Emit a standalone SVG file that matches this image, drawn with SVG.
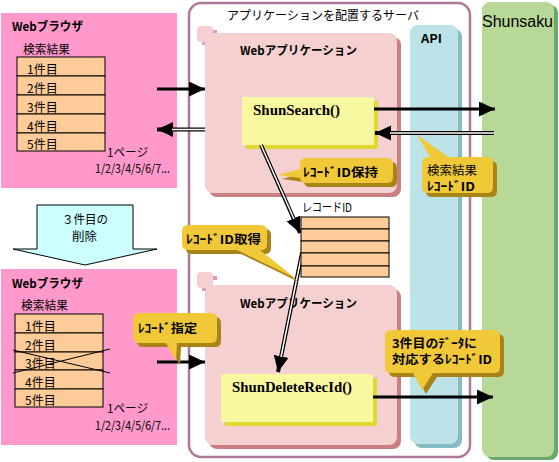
<svg xmlns="http://www.w3.org/2000/svg" width="559" height="462" viewBox="0 0 559 462">
<style>
text{font-family:"Noto Sans CJK JP","Liberation Sans",sans-serif;font-size:12px;fill:#000}
.b{font-weight:bold}
.fn{font-family:"Liberation Serif","Noto Sans CJK JP",serif;font-weight:bold;font-size:14px}
.browser{fill:#ff99cc}
.tbl{fill:#ffcc99;stroke:#000;stroke-width:1}
.app{fill:#f5d0d0}
.appsh{fill:#c88080}
.func{fill:#f8f8a0}
.funcsh{fill:#e0d830}
.co{fill:#f0c838}
.cosh{fill:#a88418}
.thick{stroke:#000;stroke-width:3;fill:none}
.dbl{stroke:#000;stroke-width:4;fill:none}
.dblw{stroke:#fff;stroke-width:1.5;fill:none}
</style>
<defs>
<marker id="ah" markerUnits="userSpaceOnUse" markerWidth="17" markerHeight="16" refX="16" refY="7.5" orient="auto">
<path d="M0,0 L16,7.5 L0,15 Z" fill="#000"/>
</marker>
</defs>

<g id="server">
<rect x="189" y="3" width="281" height="454" rx="12" fill="#fff" stroke="#b07898" stroke-width="2.5"/>
<text x="227" y="20" textLength="192" lengthAdjust="spacingAndGlyphs">アプリケーションを配置するサーバ</text>
</g>

<g id="api">
<rect x="414" y="29" width="48" height="419" rx="8" fill="#85bcc4"/>
<rect x="410" y="25" width="48" height="419" rx="8" fill="#bde3e8"/>
<text class="b" x="421" y="43" textLength="21" lengthAdjust="spacingAndGlyphs">API</text>
</g>

<g id="shunsaku">
<rect x="486" y="5" width="72" height="455" rx="8" fill="#6aa86a"/>
<rect x="482" y="2" width="72" height="455" rx="8" fill="#b8d898"/>
<text x="482" y="27" style="font-family:'Liberation Sans',sans-serif;font-size:16px" textLength="71" lengthAdjust="spacingAndGlyphs">Shunsaku</text>
</g>

<g id="browser1">
<rect class="browser" x="1" y="13" width="176" height="175"/>
<text class="b" x="12" y="31" font-size="13" textLength="71" lengthAdjust="spacingAndGlyphs">Webブラウザ</text>
<text x="23" y="54" textLength="47" lengthAdjust="spacingAndGlyphs">検索結果</text>
<rect class="tbl" x="17" y="57" width="88" height="19"/>
<rect class="tbl" x="17" y="76" width="88" height="19"/>
<rect class="tbl" x="17" y="95" width="88" height="19"/>
<rect class="tbl" x="17" y="114" width="88" height="19"/>
<rect class="tbl" x="17" y="133" width="88" height="18"/>
<text x="27" y="74">1件目</text>
<text x="27" y="93">2件目</text>
<text x="27" y="112">3件目</text>
<text x="27" y="131">4件目</text>
<text x="27" y="149">5件目</text>
<text x="107" y="157" textLength="41" lengthAdjust="spacingAndGlyphs">1ページ</text>
<text x="95" y="173" textLength="75" lengthAdjust="spacingAndGlyphs">1/2/3/4/5/6/7...</text>
</g>

<g id="delete-step">
<polygon points="37,205 133,205 133,249 157,249 85,265 13,249 37,249" fill="#ccffff" stroke="#000" stroke-width="1"/>
<text x="62" y="224" font-size="11.5" textLength="46" lengthAdjust="spacingAndGlyphs">３件目の</text>
<text x="72" y="241" font-size="11.5" textLength="25" lengthAdjust="spacingAndGlyphs">削除</text>
</g>

<g id="browser2">
<rect class="browser" x="1" y="269" width="176" height="176"/>
<text class="b" x="12" y="288" font-size="13" textLength="71" lengthAdjust="spacingAndGlyphs">Webブラウザ</text>
<text x="21" y="310" textLength="47" lengthAdjust="spacingAndGlyphs">検索結果</text>
<rect class="tbl" x="15" y="314" width="88" height="19"/>
<rect class="tbl" x="15" y="333" width="88" height="19"/>
<rect class="tbl" x="15" y="352" width="88" height="18"/>
<rect class="tbl" x="15" y="370" width="88" height="19"/>
<rect class="tbl" x="15" y="389" width="88" height="18"/>
<text x="25" y="331">1件目</text>
<text x="25" y="350">2件目</text>
<text x="25" y="368">3件目</text>
<text x="25" y="387">4件目</text>
<text x="25" y="405">5件目</text>
<line x1="13" y1="350" x2="110" y2="373" stroke="#000" stroke-width="1"/>
<line x1="13" y1="373" x2="110" y2="349" stroke="#000" stroke-width="1"/>
<text x="107" y="413" textLength="41" lengthAdjust="spacingAndGlyphs">1ページ</text>
<text x="95" y="430" textLength="75" lengthAdjust="spacingAndGlyphs">1/2/3/4/5/6/7...</text>
</g>

<g id="webapp1">
<rect class="app" x="197" y="26" width="16" height="16" rx="4"/>
<rect x="213" y="30" width="4" height="4" fill="#e098b8"/>
<rect x="202" y="42" width="4" height="3" fill="#e098b8"/>
<rect class="appsh" x="209" y="37" width="192" height="160" rx="8"/>
<rect class="app" x="205" y="33" width="192" height="160" rx="8"/>
<text class="b" x="240" y="55" font-size="13" textLength="117" lengthAdjust="spacingAndGlyphs">Webアプリケーション</text>
</g>

<g id="shunsearch">
<rect class="funcsh" x="246" y="101" width="132" height="48"/>
<rect class="func" x="242" y="97" width="132" height="48"/>
<text class="fn" x="253" y="115" textLength="87" lengthAdjust="spacingAndGlyphs">ShunSearch()</text>
</g>

<g id="webapp2">
<rect class="app" x="197" y="272" width="16" height="16" rx="4"/>
<rect x="213" y="276" width="4" height="4" fill="#e098b8"/>
<rect x="202" y="288" width="4" height="3" fill="#e098b8"/>
<rect class="appsh" x="209" y="289" width="192" height="160" rx="8"/>
<rect class="app" x="205" y="285" width="192" height="160" rx="8"/>
<text class="b" x="240" y="308" font-size="13" textLength="117" lengthAdjust="spacingAndGlyphs">Webアプリケーション</text>
</g>

<g id="shundelete">
<rect class="funcsh" x="225" y="378" width="152" height="48"/>
<rect class="func" x="221" y="374" width="152" height="48"/>
<text class="fn" x="232" y="392" textLength="120" lengthAdjust="spacingAndGlyphs">ShunDeleteRecId()</text>
</g>

<g id="connectors">
<line class="thick" x1="157" y1="89" x2="205" y2="89" marker-end="url(#ah)"/>
<line class="dbl" x1="205" y1="129.5" x2="157" y2="129.5" marker-end="url(#ah)"/>
<line class="dblw" x1="205" y1="129.5" x2="172" y2="129.5"/>
<line class="thick" x1="374" y1="109" x2="495" y2="109" marker-end="url(#ah)"/>
<line class="dbl" x1="494" y1="133" x2="375" y2="133" marker-end="url(#ah)"/>
<line class="dblw" x1="494" y1="133" x2="390" y2="133"/>
<line class="thick" x1="157" y1="362" x2="205" y2="362" marker-end="url(#ah)"/>
<line class="thick" x1="373" y1="397" x2="493" y2="397" marker-end="url(#ah)"/>
<line class="dbl" x1="261" y1="145" x2="300" y2="233" marker-end="url(#ah)"/>
<line class="dblw" x1="261" y1="145" x2="294" y2="219"/>
<line class="dbl" x1="302" y1="253" x2="278" y2="372" marker-end="url(#ah)"/>
<line class="dblw" x1="302" y1="253" x2="281" y2="357"/>
</g>

<g id="recordid">
<text x="302" y="212" textLength="50" lengthAdjust="spacingAndGlyphs">レコードID</text>
<rect class="tbl" x="301" y="217" width="88" height="12"/>
<rect class="tbl" x="301" y="229" width="88" height="12"/>
<rect class="tbl" x="301" y="241" width="88" height="12"/>
<rect class="tbl" x="301" y="253" width="88" height="13"/>
<rect class="tbl" x="301" y="266" width="88" height="11"/>
</g>

<g id="callout-hold">
<path class="cosh" transform="translate(4,4)" d="M306,158 H387 Q393,158 393,164 V177 Q393,183 387,183 H306 Q300,183 300,177 V178 L278,175 L300,169 V164 Q300,158 306,158 Z"/>
<path class="co" d="M306,158 H387 Q393,158 393,164 V177 Q393,183 387,183 H306 Q300,183 300,177 V178 L278,175 L300,169 V164 Q300,158 306,158 Z"/>
<text class="b" x="303" y="177" font-size="13" textLength="75" lengthAdjust="spacingAndGlyphs">ﾚｺｰﾄﾞID保持</text>
</g>

<g id="callout-result">
<path class="cosh" transform="translate(4,4)" d="M428,157 L430,157 L417,135 L448,157 H487 Q493,157 493,163 V187 Q493,193 487,193 H428 Q422,193 422,187 V163 Q422,157 428,157 Z"/>
<path class="co" d="M428,157 L430,157 L417,135 L448,157 H487 Q493,157 493,163 V187 Q493,193 487,193 H428 Q422,193 422,187 V163 Q422,157 428,157 Z"/>
<text x="427" y="175" font-size="11.5" textLength="50" lengthAdjust="spacingAndGlyphs">検索結果</text>
<text class="b" x="427" y="191" font-size="11.5" textLength="48" lengthAdjust="spacingAndGlyphs">ﾚｺｰﾄﾞID</text>
</g>

<g id="callout-get">
<path class="cosh" transform="translate(4,4)" d="M188,225 H261 Q267,225 267,231 V244 Q267,250 261,250 H260 L295,278 L237,250 H188 Q182,250 182,244 V231 Q182,225 188,225 Z"/>
<path class="co" d="M188,225 H261 Q267,225 267,231 V244 Q267,250 261,250 H260 L295,278 L237,250 H188 Q182,250 182,244 V231 Q182,225 188,225 Z"/>
<text class="b" x="186" y="244" font-size="13" textLength="75" lengthAdjust="spacingAndGlyphs">ﾚｺｰﾄﾞID取得</text>
</g>

<g id="callout-specify">
<path class="cosh" transform="translate(4,4)" d="M139,313 H211 Q217,313 217,319 V337 Q217,343 211,343 H177 L176,361 L166,343 H139 Q133,343 133,337 V319 Q133,313 139,313 Z"/>
<path class="co" d="M139,313 H211 Q217,313 217,319 V337 Q217,343 211,343 H177 L176,361 L166,343 H139 Q133,343 133,337 V319 Q133,313 139,313 Z"/>
<text class="b" x="138" y="333" font-size="13" textLength="59" lengthAdjust="spacingAndGlyphs">ﾚｺｰﾄﾞ指定</text>
</g>

<g id="callout-data">
<path class="cosh" transform="translate(4,4)" d="M391,330 H494 Q500,330 500,336 V367 Q500,373 494,373 H433 L422,390 L413,373 H391 Q385,373 385,367 V336 Q385,330 391,330 Z"/>
<path class="co" d="M391,330 H494 Q500,330 500,336 V367 Q500,373 494,373 H433 L422,390 L413,373 H391 Q385,373 385,367 V336 Q385,330 391,330 Z"/>
<text class="b" x="392" y="348" font-size="13" textLength="85" lengthAdjust="spacingAndGlyphs">3件目のﾃﾞｰﾀに</text>
<text class="b" x="392" y="364" font-size="13" textLength="100" lengthAdjust="spacingAndGlyphs">対応するﾚｺｰﾄﾞID</text>
</g>
</svg>
